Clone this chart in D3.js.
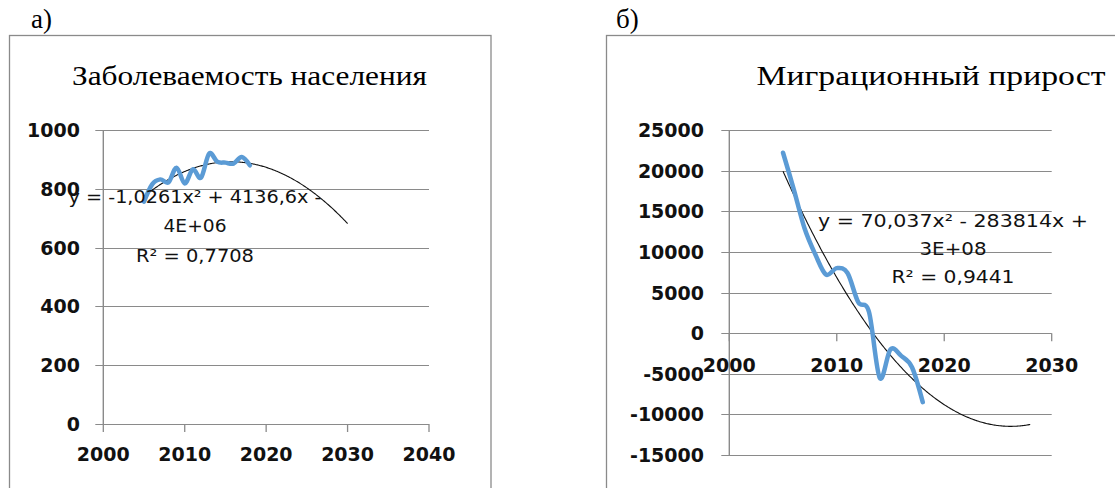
<!DOCTYPE html>
<html>
<head>
<meta charset="utf-8">
<script src="https://cdn.jsdelivr.net/npm/d3@7"></script>
<style>
  html, body { margin: 0; padding: 0; background: #fff; }
  svg { display: block; }
</style>
</head>
<body>
<svg id="chart" width="1115" height="488"></svg>
<script>
// ---------- DATA ----------
const years = [2005, 2006, 2007, 2008, 2009, 2010, 2011, 2012, 2013, 2014, 2015, 2016, 2017, 2018];
const morbidity = [756, 815, 832, 822, 872, 818, 866, 838, 920, 892, 889, 886, 908, 880];
const migration = [22200, 17700, 12900, 9700, 7200, 8000, 7400, 3800, 2600, -5500, -2000, -2800, -4200, -8500];

// polynomial trendline coefficients [x^2, x, const]
const trendCoefA = [-1.0261, 4136.6, -4168160.6];
const trendCoefB = [70.037, -283814, 287516499];
const trendRangeA = [2005, 2030];
const trendRangeB = [2005, 2028];

const xTicksA = [2000, 2010, 2020, 2030, 2040];
const yTicksA = [0, 200, 400, 600, 800, 1000];
const xTicksB = [2000, 2010, 2020, 2030];
const yTicksB = [-15000, -10000, -5000, 0, 5000, 10000, 15000, 20000, 25000];

const titleA = "Заболеваемость населения";
const titleB = "Миграционный прирост";
const eqA = ["y = -1,0261x² + 4136,6x -", "4E+06", "R² = 0,7708"];
const eqB = ["y = 70,037x² - 283814x +", "3E+08", "R² = 0,9441"];
const panelLabels = ["а)", "б)"];

// ---------- DRAW ----------
const svg = d3.select("#chart");
const GRID = "#8a8a8a";
const BLUE = "#5b9bd5";

function poly(c) { return x => c[0] * x * x + c[1] * x + c[2]; }

function panel(o) {
  const g = svg.append("g");
  // frame
  g.append("rect").attr("x", o.frame[0]).attr("y", o.frame[1])
    .attr("width", o.frame[2]).attr("height", o.frame[3])
    .attr("fill", "none").attr("stroke", GRID).attr("stroke-width", 1.3);

  const x = d3.scaleLinear().domain(o.xDom).range(o.xRange);
  const y = d3.scaleLinear().domain(o.yDom).range(o.yRange);

  // horizontal gridlines (including the left tick stubs)
  g.selectAll("line.grid").data(o.yTicks).join("line")
    .attr("x1", o.xRange[0] - 8).attr("x2", o.xRange[1])
    .attr("y1", d => Math.round(y(d)) + 0.5).attr("y2", d => Math.round(y(d)) + 0.5)
    .attr("stroke", GRID).attr("stroke-width", 1.2);

  // vertical axis
  g.append("line").attr("x1", o.xRange[0]).attr("x2", o.xRange[0])
    .attr("y1", o.yRange[1]).attr("y2", o.yRange[0])
    .attr("stroke", GRID).attr("stroke-width", 1.4);

  // x axis ticks (on the zero line)
  const y0 = y(0);
  g.selectAll("line.xt").data(o.xTicks).join("line")
    .attr("x1", d => x(d)).attr("x2", d => x(d))
    .attr("y1", y0).attr("y2", y0 + 8)
    .attr("stroke", GRID).attr("stroke-width", 1.3);

  // y tick labels
  g.selectAll("text.yl").data(o.yTicks).join("text")
    .attr("x", o.yLabelX).attr("y", d => y(d) + 7)
    .attr("text-anchor", "end")
    .attr("font-family", "DejaVu Sans").attr("font-weight", "bold").attr("font-size", 19)
    .attr("fill", "#111")
    .text(d => d);

  // x tick labels
  g.selectAll("text.xl").data(o.xTicks).join("text")
    .attr("x", d => x(d)).attr("y", o.xLabelY)
    .attr("text-anchor", "middle")
    .attr("font-family", "DejaVu Sans").attr("font-weight", "bold").attr("font-size", 19)
    .attr("fill", "#111")
    .text(d => d);

  // trendline
  const f = poly(o.coef);
  const tx = d3.range(o.trendRange[0], o.trendRange[1] + 0.001, 0.1);
  g.append("path")
    .attr("d", d3.line().x(d => x(d)).y(d => y(f(d)))(tx))
    .attr("fill", "none").attr("stroke", "#111").attr("stroke-width", 1.1);

  // data series (smoothed)
  g.append("path")
    .attr("d", d3.line().curve(d3.curveCardinal.tension(0)).x((d, i) => x(years[i])).y(d => y(d))(o.values))
    .attr("fill", "none").attr("stroke", BLUE).attr("stroke-width", 4.5)
    .attr("stroke-linejoin", "round").attr("stroke-linecap", "round");

  // title
  g.append("text").attr("x", o.title[1]).attr("y", o.title[2])
    .attr("text-anchor", "middle")
    .attr("font-family", "Liberation Serif").attr("font-size", 28)
    .attr("textLength", o.title[3]).attr("lengthAdjust", "spacingAndGlyphs")
    .text(o.title[0]);

  // equation label
  o.eq.forEach((t, i) => {
    g.append("text").attr("x", o.eqPos[0]).attr("y", o.eqPos[1] + i * o.eqPos[2])
      .attr("text-anchor", "middle")
      .attr("font-family", "DejaVu Sans").attr("font-size", 17)
      .attr("fill", "#111")
      .attr("textLength", o.eqW[i]).attr("lengthAdjust", "spacingAndGlyphs")
      .text(t);
  });

  // panel label
  svg.append("text").attr("x", o.label[1]).attr("y", o.label[2])
    .attr("font-family", "Liberation Serif").attr("font-size", 27)
    .text(o.label[0]);
}

panel({
  frame: [9.5, 35.5, 481.5, 520],
  xDom: [2000, 2040], xRange: [103.3, 429],
  yDom: [0, 1000], yRange: [424, 130],
  xTicks: xTicksA, yTicks: yTicksA,
  yLabelX: 80, xLabelY: 461,
  coef: trendCoefA, trendRange: trendRangeA,
  values: morbidity,
  title: [titleA, 249.5, 85, 355],
  eq: eqA, eqPos: [195, 203, 29.3], eqW: [253, 63, 118],
  label: [panelLabels[0], 31, 28]
});

panel({
  frame: [606.5, 35.5, 600, 520],
  xDom: [2000, 2030], xRange: [729.3, 1051.7],
  yDom: [-15000, 25000], yRange: [455, 130],
  xTicks: xTicksB, yTicks: yTicksB,
  yLabelX: 704, xLabelY: 372,
  coef: trendCoefB, trendRange: trendRangeB,
  values: migration,
  title: [titleB, 931, 85, 349],
  eq: eqB, eqPos: [953, 226.5, 28.2], eqW: [270, 67, 123],
  label: [panelLabels[1], 616, 28]
});
</script>
</body>
</html>
